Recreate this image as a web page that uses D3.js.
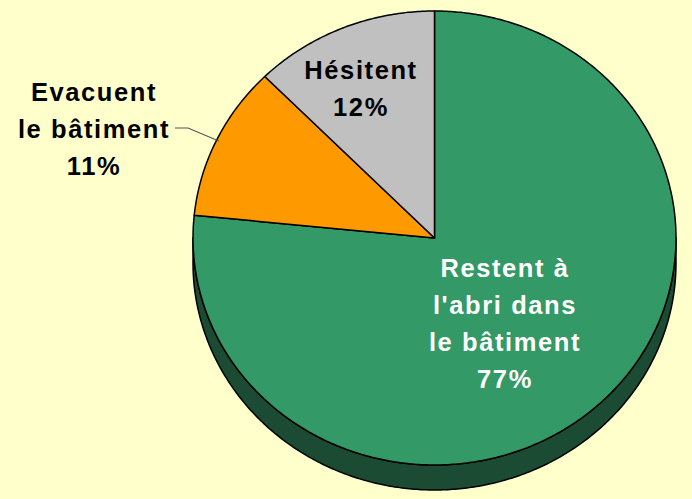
<!DOCTYPE html>
<html>
<head>
<meta charset="utf-8">
<script src="https://cdn.jsdelivr.net/npm/d3@7"></script>
<style>
  html, body { margin: 0; padding: 0; background: #FFFFCC; }
  svg { display: block; }
  text { font-family: "Liberation Sans", Arial, sans-serif; font-weight: bold; }
</style>
</head>
<body>
<svg id="chart" width="692" height="499"></svg>
<script>
// ---- data ----
const categories = ["Restent à l'abri dans le bâtiment", "Evacuent le bâtiment", "Hésitent"];
const values = [76.6, 11.0, 12.4];
const labelLines = [
  ["Restent à", "l'abri dans", "le bâtiment"],
  ["Evacuent", "le bâtiment"],
  ["Hésitent"]
];
const colors = ["#339966", "#FF9900", "#C0C0C0"];
const sideColors = ["#1C4B33", "#9C5E00", "#7A7A7A"];

// ---- geometry ----
const W = 692, H = 499;
const cx = 434.5, cy = 238, rx = 241.5, ry = 227, depth = 25;

const svg = d3.select("#chart");
svg.append("rect").attr("width", W).attr("height", H).attr("fill", "#FFFFCC");

const total = d3.sum(values);
const pct = d3.format(".0%");
const pie = d3.pie().sort(null).value(d => d)(values);

const px = (a, r = 1) => cx + rx * r * Math.sin(a);
const py = (a, r = 1, dz = 0) => cy - ry * r * Math.cos(a) + dz;
const line = d3.line();

function arcPoints(a0, a1, dz) {
  const n = Math.max(2, Math.ceil(Math.abs(a1 - a0) / 0.01));
  const pts = [];
  for (let i = 0; i <= n; i++) {
    const a = a0 + (a1 - a0) * i / n;
    pts.push([px(a), py(a, 1, dz)]);
  }
  return pts;
}

// side walls (visible front half: angles between PI/2 and 3PI/2)
const gSide = svg.append("g");
pie.forEach((d, i) => {
  const a0 = Math.max(d.startAngle, Math.PI / 2);
  const a1 = Math.min(d.endAngle, 3 * Math.PI / 2);
  if (a1 <= a0) return;
  const top = arcPoints(a0, a1, 0);
  const bottom = arcPoints(a1, a0, depth);
  gSide.append("path")
    .attr("d", line(top.concat(bottom)) + "Z")
    .attr("fill", sideColors[i])
    .attr("stroke", "#000")
    .attr("stroke-width", 1.5)
    .attr("stroke-linejoin", "round");
});

// top faces
const gTop = svg.append("g");
pie.forEach((d, i) => {
  const pts = [[cx, cy]].concat(arcPoints(d.startAngle, d.endAngle, 0));
  gTop.append("path")
    .attr("d", line(pts) + "Z")
    .attr("fill", colors[i])
    .attr("stroke", "#000")
    .attr("stroke-width", 1.5)
    .attr("stroke-linejoin", "round");
});

// leader line for "Evacuent"
const evac = pie[1];
const midA = (evac.startAngle + evac.endAngle) / 2;
const edgeX = px(midA, 0.99), edgeY = py(midA, 0.99);
svg.append("path")
  .attr("d", line([[175, 128], [188, 128], [edgeX, edgeY]]))
  .attr("fill", "none")
  .attr("stroke", "#555")
  .attr("stroke-width", 1.2);

// labels
const labelPos = [
  { x: 505, y: 277, fill: "#FFFFFF" },
  { x: 94, y: 101, fill: "#000000" },
  { x: 361, y: 79, fill: "#000000" }
];
const lineH = 37;
labelLines.forEach((lines, i) => {
  const all = lines.concat([pct(values[i] / total)]);
  const t = svg.append("text")
    .attr("text-anchor", "middle")
    .attr("font-size", 25.5)
    .attr("letter-spacing", "1.6px")
    .attr("fill", labelPos[i].fill);
  all.forEach((s, j) => {
    t.append("tspan")
      .attr("x", labelPos[i].x)
      .attr("y", labelPos[i].y + j * lineH)
      .text(s);
  });
});
</script>
</body>
</html>
